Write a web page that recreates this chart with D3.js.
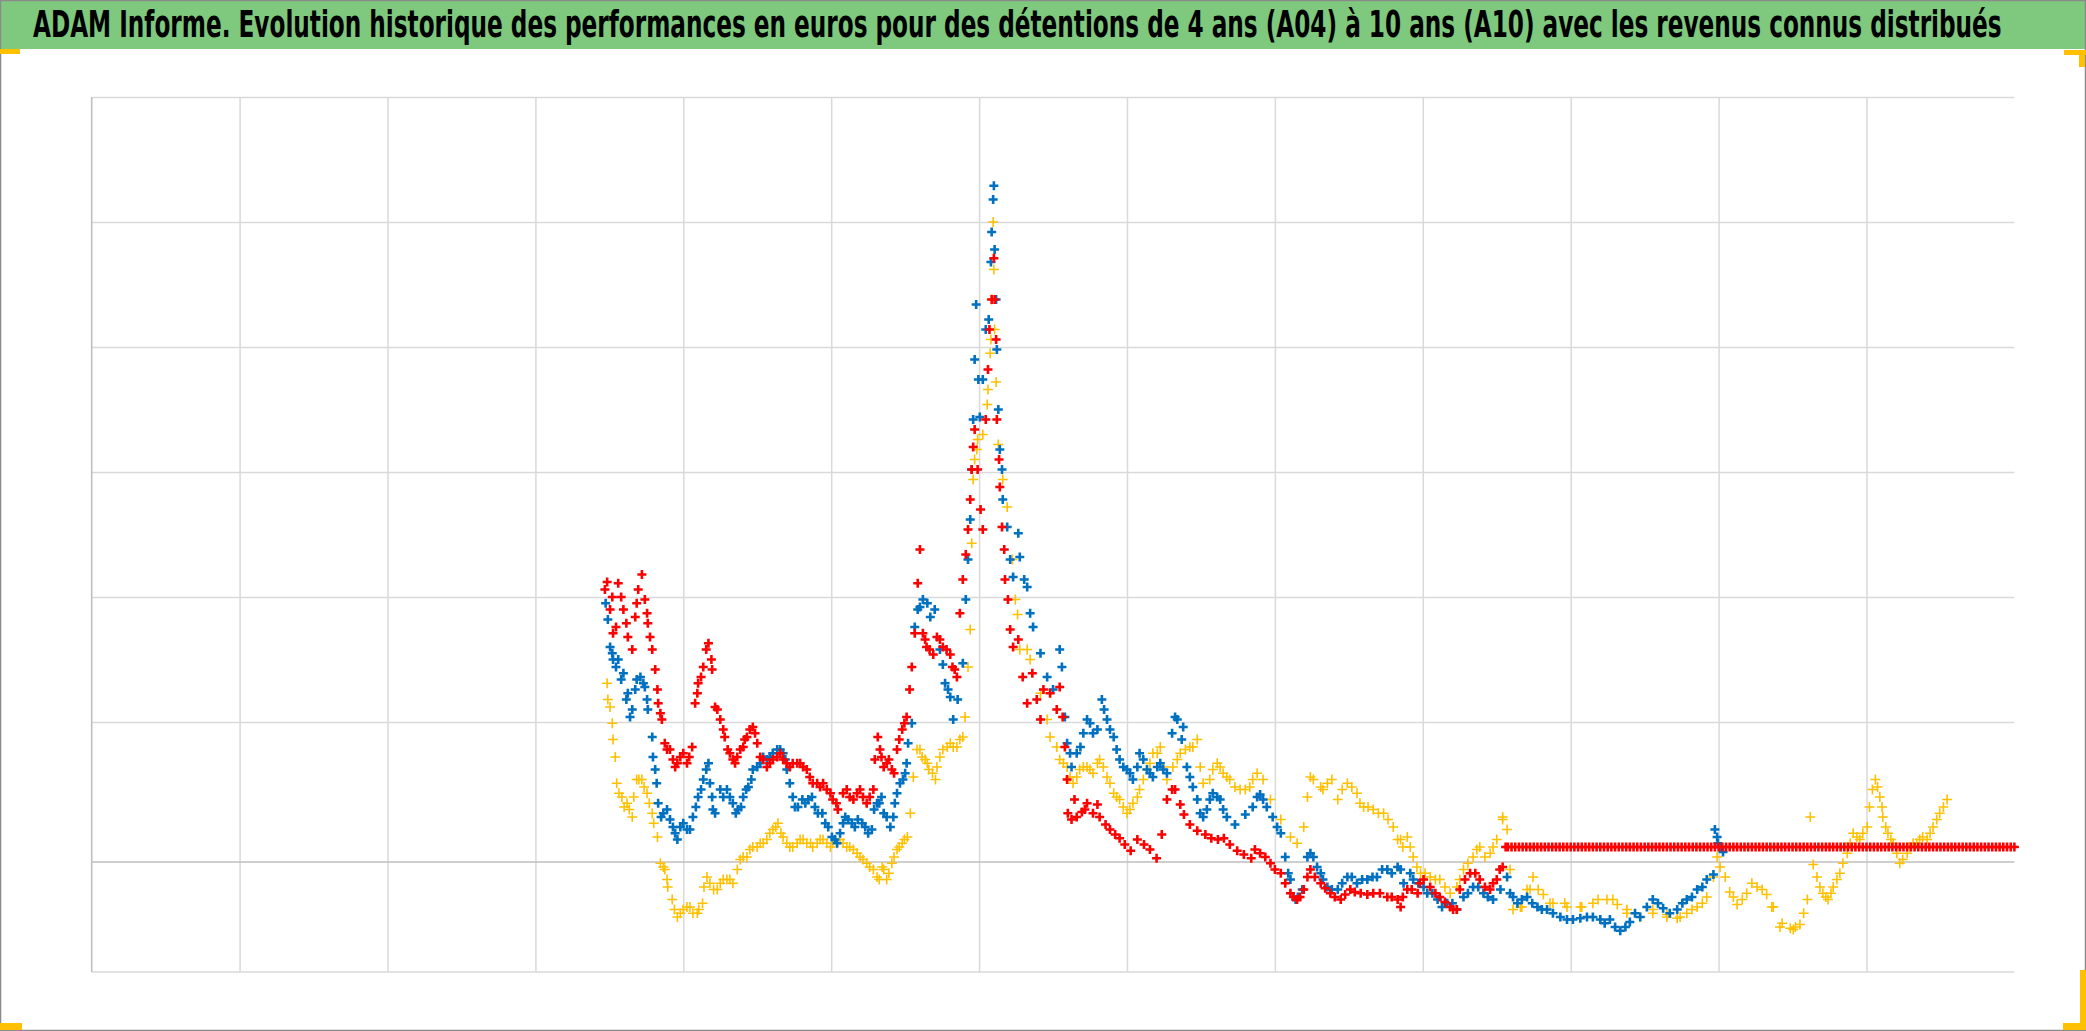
<!DOCTYPE html>
<html><head><meta charset="utf-8">
<script src="https://cdn.jsdelivr.net/npm/d3@7"></script>
<style>html,body{margin:0;padding:0;background:#fff;overflow:hidden}</style>
</head><body>
<svg id="c" width="2086" height="1031"></svg>
<script>
const titleText = "ADAM Informe. Evolution historique des performances en euros pour des détentions de 4 ans (A04) à 10 ans (A10) avec les revenus connus distribués";
const xDomain = [1988, 2014];
const yDomain = [-88, 612];
const xGridYears = [1990,1992,1994,1996,1998,2000,2002,2004,2006,2008,2010,2012];
const yGridValues = [112,212,312,412,512,612];
const seriesNames = ["A04","A07","A10"];
const seriesColors = ["#FFC000","#0070C0","#FF0000"];

// A04 (jaune)
const serieA04 = [[1994.97,143],[1994.98,130],[1995.04,111],[1995.05,98],[1995.08,84],[1995.10,63],[1995.17,52],[1995.24,47],[1995.31,36],[1995.37,66],[1995.44,66],[1995.51,55],[1995.58,39],[1995.65,20],[1995.69,-1],[1995.75,-6],[1995.79,-20],[1995.85,-30],[1995.92,-44],[1996.00,-38],[1996.09,-36],[1996.19,-41],[1996.26,-33],[1996.32,-12],[1996.41,-22],[1996.50,-17],[1996.59,-14],[1996.67,-17],[1996.77,2],[1996.86,4],[1996.94,12],[1997.04,15],[1997.13,18],[1997.21,26],[1997.28,31],[1997.35,20],[1997.44,12],[1997.54,15],[1997.62,18],[1997.72,15],[1997.81,15],[1997.89,18],[1997.99,12],[1998.08,15],[1998.16,15],[1998.25,12],[1998.35,7],[1998.43,2],[1998.52,-4],[1998.62,-12],[1998.69,-4],[1998.75,-14],[1998.82,-1],[1998.89,10],[1998.96,15],[1999.03,20],[1999.07,39],[1999.11,68],[1999.16,90],[1999.23,84],[1999.30,79],[1999.37,71],[1999.41,66],[1999.47,84],[1999.57,92],[1999.65,92],[1999.74,98],[1999.81,116],[1999.85,156],[1999.88,186],[1999.90,255],[1999.92,306],[1999.94,322],[1999.97,330],[1999.98,338],[2000.05,342],[2000.11,366],[2000.12,378],[2000.15,407],[2000.16,418],[2000.17,450],[2000.19,512],[2000.20,474],[2000.21,426],[2000.23,384],[2000.26,334],[2000.32,306],[2000.38,284],[2000.45,242],[2000.49,210],[2000.52,198],[2000.55,170],[2000.65,170],[2000.69,162],[2000.83,135],[2000.92,114],[2000.96,100],[2001.05,92],[2001.09,82],[2001.19,76],[2001.27,63],[2001.36,74],[2001.46,76],[2001.54,71],[2001.63,82],[2001.73,68],[2001.82,55],[2001.90,50],[2002.00,39],[2002.08,47],[2002.17,58],[2002.27,74],[2002.35,87],[2002.45,92],[2002.54,66],[2002.62,76],[2002.72,87],[2002.85,92],[2002.95,98],[2003.03,63],[2003.12,66],[2003.22,79],[2003.30,71],[2003.39,66],[2003.53,58],[2003.66,60],[2003.76,71],[2003.84,66],[2003.94,50],[2004.08,34],[2004.21,20],[2004.30,15],[2004.39,28],[2004.44,52],[2004.48,68],[2004.62,60],[2004.71,63],[2004.85,50],[2004.98,63],[2005.11,55],[2005.20,44],[2005.33,42],[2005.47,39],[2005.60,28],[2005.70,18],[2005.79,20],[2005.87,4],[2005.97,-9],[2006.10,-12],[2006.23,-14],[2006.37,-25],[2006.46,-20],[2006.55,-6],[2006.68,4],[2006.77,12],[2006.91,7],[2007.00,18],[2007.08,34],[2007.14,26],[2007.18,-6],[2007.22,-38],[2007.32,-36],[2007.41,-22],[2007.49,-12],[2007.63,-26],[2007.76,-33],[2007.95,-36],[2008.13,-36],[2008.30,-33],[2008.49,-30],[2008.63,-34],[2008.76,-41],[2008.94,-44],[2009.11,-41],[2009.30,-44],[2009.44,-45],[2009.57,-41],[2009.71,-36],[2009.84,-28],[2009.93,-12],[2009.98,4],[2010.02,-4],[2010.15,-24],[2010.25,-34],[2010.38,-25],[2010.52,-20],[2010.65,-26],[2010.74,-36],[2010.83,-52],[2010.97,-53],[2011.10,-50],[2011.20,-30],[2011.24,36],[2011.28,-2],[2011.33,-12],[2011.41,-25],[2011.48,-30],[2011.55,-20],[2011.64,-9],[2011.74,7],[2011.82,23],[2011.91,18],[2012.01,28],[2012.08,58],[2012.12,66],[2012.18,52],[2012.22,36],[2012.29,23],[2012.36,15],[2012.45,-1],[2012.55,7],[2012.63,15],[2012.72,18],[2012.82,18],[2012.90,28],[2012.99,39],[2013.09,50],
[1995.01,124],[1995.13,55],[1995.20,44],[1995.27,42],[1995.33,52],[1995.40,66],[1995.47,60],[1995.54,47],[1995.60,31],[1995.73,-4],[1995.78,-14],[1995.88,-38],[1995.96,-41],[1996.05,-36],[1996.13,-41],[1996.21,-38],[1996.28,-20],[1996.36,-17],[1996.46,-22],[1996.54,-14],[1996.63,-14],[1996.73,-6],[1996.81,4],[1996.90,10],[1997.00,12],[1997.08,15],[1997.17,23],[1997.25,28],[1997.32,23],[1997.40,15],[1997.48,12],[1997.58,18],[1997.67,15],[1997.75,12],[1997.85,18],[1997.94,15],[1998.02,15],[1998.12,18],[1998.21,12],[1998.30,10],[1998.39,4],[1998.48,-1],[1998.57,-6],[1998.65,-14],[1998.71,-6],[1998.78,-9],[1998.85,4],[1998.92,12],[1998.99,18],[1999.20,90],[1999.27,82],[1999.32,74],[1999.43,76],[1999.51,90],[1999.61,95],[1999.70,92],[1999.78,100],
[2001.14,79],[2001.23,68],[2001.32,68],[2001.41,76],[2001.50,74],[2001.60,79],[2001.68,76],[2001.77,63],[2001.86,52],[2001.95,44],[2002.04,42],[2002.14,52],[2002.22,66],[2002.31,79],[2002.41,87],[2002.49,76],[2002.68,82],[2002.79,90],[2002.89,92],[2002.99,76],[2003.16,74],[2003.26,76],[2003.35,68],[2003.46,60],[2003.60,58],[2003.70,66],
[2004.52,66],[2004.65,58],[2004.77,66],[2004.91,58],[2005.04,60],[2005.15,47],[2005.26,44],[2005.40,39],[2005.53,34],[2005.66,18],[2005.73,12],[2005.83,12],[2005.92,-4],[2006.03,-9],[2006.17,-14],[2006.30,-20],[2006.50,-14],[2006.61,-1],[2006.73,10],[2006.84,4],[2006.95,12],[2007.08,36],
[2007.34,-36],[2007.45,-22],[2007.56,-22],[2007.72,-33],[2007.92,-33],[2008.15,-36],[2008.37,-30],[2008.57,-30],[2008.76,-38],[2008.94,-44],[2009.11,-38],[2009.30,-42],[2009.48,-44],[2009.64,-38],[2009.78,-33],[2010.09,-12],[2010.20,-28],[2010.32,-30],[2010.45,-17],[2010.59,-22],[2010.72,-36],[2010.86,-49],[2011.01,-54],[2011.04,-52],[2011.15,-41],[2011.37,-20],[2011.45,-28],[2011.52,-25],[2011.60,-14],[2011.68,-1],[2011.78,15],[2011.87,20],[2011.95,23],[2012.04,44],[2012.15,60],[2012.21,44],[2012.26,28],[2012.33,18],[2012.41,7],[2012.49,2],[2012.59,12],[2012.68,15],[2012.76,20],[2012.86,23],[2012.95,34],[2013.04,44]];

// A07 (bleu)
const serieA07 = [[1994.95,207],[1994.98,194],[1995.01,172],[1995.05,162],[1995.12,162],[1995.19,151],[1995.25,135],[1995.31,122],[1995.35,138],[1995.42,148],[1995.48,140],[1995.52,122],[1995.58,100],[1995.62,74],[1995.66,47],[1995.73,39],[1995.82,34],[1995.89,23],[1995.96,28],[1996.05,26],[1996.13,36],[1996.20,52],[1996.27,66],[1996.34,79],[1996.39,52],[1996.43,39],[1996.50,58],[1996.59,58],[1996.67,47],[1996.74,42],[1996.81,52],[1996.88,60],[1996.94,74],[1997.04,79],[1997.13,82],[1997.21,87],[1997.31,90],[1997.38,82],[1997.44,63],[1997.51,44],[1997.61,50],[1997.69,50],[1997.78,44],[1997.88,39],[1997.96,28],[1998.05,18],[1998.12,23],[1998.19,36],[1998.28,31],[1998.36,34],[1998.46,28],[1998.55,26],[1998.62,47],[1998.68,52],[1998.75,36],[1998.80,28],[1998.86,47],[1998.93,63],[1999.00,71],[1999.04,95],[1999.09,111],[1999.13,188],[1999.17,202],[1999.24,210],[1999.34,196],[1999.40,202],[1999.47,170],[1999.54,143],[1999.61,132],[1999.65,114],[1999.71,130],[1999.78,159],[1999.82,210],[1999.85,242],[1999.88,274],[1999.90,314],[1999.92,354],[1999.94,402],[1999.96,446],[1999.99,386],[2000.01,356],[2000.05,386],[2000.09,426],[2000.13,434],[2000.16,480],[2000.17,504],[2000.19,530],[2000.20,541],[2000.21,490],[2000.23,450],[2000.24,410],[2000.26,362],[2000.28,330],[2000.31,314],[2000.32,290],[2000.38,268],[2000.42,242],[2000.46,228],[2000.53,263],[2000.55,244],[2000.61,226],[2000.65,220],[2000.69,199],[2000.73,188],[2000.83,167],[2000.92,148],[2001.00,138],[2001.09,170],[2001.12,156],[2001.16,116],[2001.19,95],[2001.25,76],[2001.32,87],[2001.41,103],[2001.50,111],[2001.60,106],[2001.66,130],[2001.73,114],[2001.82,100],[2001.90,82],[2002.00,74],[2002.08,66],[2002.17,87],[2002.27,74],[2002.35,68],[2002.45,79],[2002.54,71],[2002.61,103],[2002.68,114],[2002.74,98],[2002.81,76],[2002.89,60],[2002.99,39],[2003.08,42],[2003.16,55],[2003.26,50],[2003.35,36],[2003.46,30],[2003.60,38],[2003.70,44],[2003.80,54],[2003.89,44],[2003.97,36],[2004.08,23],[2004.14,4],[2004.21,-14],[2004.28,-30],[2004.37,-22],[2004.44,4],[2004.52,4],[2004.62,-9],[2004.71,-20],[2004.85,-22],[2004.98,-12],[2005.11,-17],[2005.25,-14],[2005.38,-12],[2005.52,-6],[2005.66,-4],[2005.74,-17],[2005.83,-9],[2005.94,-17],[2006.06,-25],[2006.20,-30],[2006.33,-33],[2006.46,-38],[2006.55,-28],[2006.68,-20],[2006.82,-25],[2006.95,-30],[2007.05,-22],[2007.14,-12],[2007.18,-25],[2007.28,-33],[2007.41,-28],[2007.55,-36],[2007.68,-38],[2007.86,-44],[2008.03,-46],[2008.22,-44],[2008.40,-46],[2008.53,-46],[2008.67,-55],[2008.80,-48],[2008.94,-44],[2009.11,-30],[2009.25,-37],[2009.44,-38],[2009.57,-30],[2009.71,-22],[2009.84,-14],[2009.93,-10],[2009.95,26],[2009.99,15],[2010.06,8],
[1995.04,167],[1995.09,156],[1995.16,146],[1995.23,130],[1995.28,116],[1995.37,146],[1995.46,143],[1995.51,130],[1995.59,84],[1995.64,63],[1995.70,36],[1995.78,42],[1995.86,28],[1995.92,18],[1996.00,31],[1996.09,26],[1996.17,44],[1996.24,58],[1996.31,74],[1996.36,63],[1996.40,42],[1996.54,52],[1996.63,52],[1996.71,39],[1996.78,44],[1996.85,58],[1996.92,66],[1997.00,76],[1997.08,84],[1997.17,84],[1997.27,90],[1997.35,87],[1997.40,74],[1997.48,52],[1997.55,44],[1997.65,47],[1997.74,52],[1997.82,39],[1997.92,31],[1998.01,20],[1998.08,15],[1998.16,31],[1998.23,34],[1998.32,28],[1998.42,31],[1998.50,23],[1998.58,42],[1998.65,47],[1998.71,39],[1998.84,36],[1998.89,55],[1998.97,66],[1999.02,79],[1999.20,204],[1999.30,207],[1999.51,158],[1999.58,138],
[2001.23,87],[2001.37,92],[2001.46,114],[2001.54,103],[2001.69,122],[2001.77,106],[2001.86,90],[2001.95,76],[2002.04,71],[2002.14,76],[2002.22,82],[2002.31,71],[2002.41,76],[2002.49,74],[2002.65,116],[2002.76,108],[2002.85,68],[2002.95,50],[2003.03,36],[2003.12,50],[2003.22,52],[2003.30,42],[2003.76,52],[2003.84,50],
[2004.03,28],[2004.18,-9],[2004.31,-28],[2004.48,7],[2004.57,-4],[2004.65,-14],[2004.77,-22],[2004.91,-17],[2005.04,-12],[2005.18,-14],[2005.32,-12],[2005.45,-6],[2005.58,-9],[2005.70,-6],[2005.87,-14],[2006.01,-20],[2006.13,-25],[2006.26,-36],[2006.40,-33],[2006.61,-25],[2006.75,-20],[2006.88,-28],[2007.22,-28],[2007.34,-30],[2007.48,-33],[2007.61,-38],[2007.76,-41],[2007.95,-46],[2008.13,-45],[2008.30,-44],[2008.46,-49],[2008.60,-52],[2008.74,-52],[2008.87,-41],[2009.03,-36],[2009.18,-33],[2009.34,-41],[2009.51,-33],[2009.64,-28],[2009.78,-20],[2009.98,20],[2010.02,12]];

// A10 (rouge)
const serieA10 = [[1994.94,218],[1994.97,224],[1995.01,202],[1995.05,183],[1995.12,223],[1995.19,202],[1995.25,180],[1995.31,170],[1995.35,196],[1995.39,218],[1995.44,230],[1995.48,210],[1995.52,191],[1995.58,170],[1995.62,154],[1995.66,127],[1995.71,114],[1995.75,95],[1995.82,90],[1995.89,76],[1995.96,84],[1996.05,79],[1996.12,92],[1996.16,127],[1996.20,143],[1996.27,156],[1996.34,175],[1996.39,154],[1996.43,124],[1996.50,114],[1996.56,100],[1996.63,87],[1996.70,79],[1996.77,90],[1996.83,98],[1996.90,106],[1996.97,103],[1997.04,84],[1997.13,76],[1997.21,82],[1997.31,87],[1997.40,79],[1997.48,79],[1997.58,79],[1997.67,74],[1997.75,63],[1997.85,60],[1997.94,58],[1998.02,50],[1998.09,42],[1998.16,55],[1998.25,52],[1998.35,55],[1998.43,52],[1998.52,52],[1998.59,82],[1998.63,100],[1998.68,84],[1998.75,79],[1998.82,74],[1998.89,90],[1998.96,106],[1999.02,116],[1999.06,138],[1999.09,156],[1999.13,183],[1999.17,223],[1999.20,250],[1999.24,183],[1999.29,172],[1999.33,170],[1999.43,180],[1999.51,172],[1999.56,170],[1999.64,156],[1999.70,148],[1999.74,199],[1999.78,226],[1999.82,246],[1999.85,266],[1999.88,290],[1999.90,314],[1999.92,332],[1999.94,346],[1999.98,314],[2000.02,282],[2000.05,266],[2000.09,354],[2000.12,394],[2000.14,426],[2000.17,450],[2000.20,483],[2000.21,450],[2000.23,418],[2000.24,354],[2000.27,322],[2000.28,300],[2000.31,268],[2000.34,250],[2000.35,226],[2000.39,210],[2000.42,186],[2000.46,172],[2000.53,178],[2000.59,148],[2000.65,127],[2000.72,151],[2000.78,130],[2000.83,114],[2000.87,138],[2000.96,135],[2001.05,122],[2001.09,140],[2001.13,116],[2001.16,92],[2001.19,66],[2001.20,39],[2001.25,34],[2001.32,36],[2001.39,40],[2001.46,47],[2001.54,39],[2001.63,36],[2001.77,26],[2001.90,19],[2002.05,9],[2002.23,14],[2002.40,3],[2002.54,50],[2002.65,58],[2002.77,38],[2002.95,25],[2003.14,19],[2003.31,19],[2003.49,9],[2003.68,3],[2003.80,7],[2003.94,-1],[2004.08,-9],[2004.21,-25],[2004.30,-30],[2004.39,-22],[2004.48,-6],[2004.62,-17],[2004.75,-25],[2004.89,-30],[2005.02,-22],[2005.16,-25],[2005.33,-25],[2005.52,-28],[2005.66,-30],[2005.70,-36],[2005.79,-22],[2005.93,-25],[2006.01,-14],[2006.10,-20],[2006.23,-28],[2006.37,-36],[2006.46,-38],[2006.50,-22],[2006.64,-9],[2006.77,-14],[2006.91,-22],[2007.00,-14],[2007.08,-4],
[1995.04,212],[1995.09,188],[1995.16,212],[1995.23,191],[1995.37,207],[1995.51,199],[1995.55,180],[1995.65,138],[1995.69,119],[1995.78,90],[1995.86,82],[1995.92,79],[1996.00,87],[1996.08,84],[1996.19,135],[1996.24,148],[1996.31,170],[1996.38,162],[1996.46,122],[1996.54,106],[1996.60,90],[1996.67,82],[1996.73,84],[1996.81,92],[1996.86,100],[1996.94,108],[1997.00,95],[1997.08,82],[1997.17,79],[1997.27,84],[1997.35,82],[1997.44,76],[1997.54,79],[1997.62,76],[1997.71,68],[1997.81,63],[1997.89,63],[1997.99,55],[1998.07,47],[1998.21,58],[1998.30,50],[1998.39,58],[1998.48,47],[1998.57,58],[1998.66,90],[1998.71,76],[1998.78,82],[1998.85,71],[1998.92,98],[1998.99,111],[1999.27,178],[1999.38,166],[1999.47,178],[1999.61,166],[1999.67,154],
[2001.29,50],[2001.43,42],[2001.60,46],[2001.71,30],[2001.84,22],[2001.97,14],[2002.14,18],[2002.31,10],[2002.47,22],[2002.61,58],[2002.72,46],[2002.85,30],[2003.06,22],[2003.23,18],[2003.39,14],[2003.58,6],[2003.73,10],
[2003.87,4],[2004.00,-6],[2004.14,-17],[2004.25,-28],[2004.34,-28],[2004.44,-12],[2004.54,-12],[2004.68,-21],[2004.81,-28],[2004.95,-26],[2005.08,-24],[2005.25,-26],[2005.42,-25],[2005.58,-28],[2005.73,-28],[2005.85,-22],[2005.96,-17],[2006.17,-25],[2006.30,-32],[2006.41,-38],[2006.57,-14],[2006.71,-9],[2006.84,-20],[2006.95,-17],[2007.04,-6],
[2007.12,12],[2007.15,12],[2007.2,12],[2007.25,12],[2007.3,12],[2007.35,12],[2007.4,12],[2007.45,12],[2007.5,12],[2007.55,12],[2007.6,12],[2007.65,12],[2007.7,12],[2007.75,12],[2007.8,12],[2007.85,12],[2007.9,12],[2007.95,12],[2008.0,12],[2008.05,12],[2008.1,12],[2008.15,12],[2008.2,12],[2008.25,12],[2008.3,12],[2008.35,12],[2008.4,12],[2008.45,12],[2008.5,12],[2008.55,12],[2008.6,12],[2008.65,12],[2008.7,12],[2008.75,12],[2008.8,12],[2008.85,12],[2008.9,12],[2008.95,12],[2009.0,12],[2009.05,12],[2009.1,12],[2009.15,12],[2009.2,12],[2009.25,12],[2009.3,12],[2009.35,12],[2009.4,12],[2009.45,12],[2009.5,12],[2009.55,12],[2009.6,12],[2009.65,12],[2009.7,12],[2009.75,12],[2009.8,12],[2009.85,12],[2009.9,12],[2009.95,12],[2010.0,12],[2010.05,12],[2010.1,12],[2010.15,12],[2010.2,12],[2010.25,12],[2010.3,12],[2010.35,12],[2010.4,12],[2010.45,12],[2010.5,12],[2010.55,12],[2010.6,12],[2010.65,12],[2010.7,12],[2010.75,12],[2010.8,12],[2010.85,12],[2010.9,12],[2010.95,12],[2011.0,12],[2011.05,12],[2011.1,12],[2011.15,12],[2011.2,12],[2011.25,12],[2011.3,12],[2011.35,12],[2011.4,12],[2011.45,12],[2011.5,12],[2011.55,12],[2011.6,12],[2011.65,12],[2011.7,12],[2011.75,12],[2011.8,12],[2011.85,12],[2011.9,12],[2011.95,12],[2012.0,12],[2012.05,12],[2012.1,12],[2012.15,12],[2012.2,12],[2012.25,12],[2012.3,12],[2012.35,12],[2012.4,12],[2012.45,12],[2012.5,12],[2012.55,12],[2012.6,12],[2012.65,12],[2012.7,12],[2012.75,12],[2012.8,12],[2012.85,12],[2012.9,12],[2012.95,12],[2013.0,12],[2013.05,12],[2013.1,12],[2013.15,12],[2013.2,12],[2013.25,12],[2013.3,12],[2013.35,12],[2013.4,12],[2013.45,12],[2013.5,12],[2013.55,12],[2013.6,12],[2013.65,12],[2013.7,12],[2013.75,12],[2013.8,12],[2013.85,12],[2013.9,12],[2013.95,12],[2014.0,12]];

const W = 2086, H = 1031;
const plot = {left: 91.7, right: 2014.4, top: 97, bottom: 972};
const svg = d3.select("#c");

const x = d3.scaleLinear().domain(xDomain).range([plot.left, plot.right]);
const y = d3.scaleLinear().domain(yDomain).range([plot.bottom, plot.top]);

svg.append("rect").attr("x",0).attr("y",0).attr("width",W).attr("height",H).attr("fill","#fff");

// title bar
svg.append("rect").attr("x",0).attr("y",0).attr("width",W).attr("height",49).attr("fill","#7EC97E");
const titleG = svg.append("g");
const title = titleG.append("text").attr("x",0).attr("y",0)
  .attr("font-family","'Liberation Sans Narrow','Arial Narrow','DejaVu Sans Condensed',sans-serif")
  .attr("font-weight","bold").attr("font-size",37).attr("fill","#000")
  .text(titleText);
const natural = title.node().getComputedTextLength();
const sx = natural > 0 ? 1969 / natural : 1;
titleG.attr("transform", `translate(33,37) scale(${sx},1)`);

// grid
const gx = svg.append("g").attr("transform",`translate(0,${plot.bottom})`)
  .call(d3.axisBottom(x).tickValues(xGridYears).tickSize(-(plot.bottom-plot.top)).tickFormat(""));
gx.select(".domain").remove();
gx.selectAll("line").attr("stroke","#d9d9d9").attr("stroke-width",1.5);

const gy = svg.append("g").attr("transform",`translate(${plot.left},0)`)
  .call(d3.axisLeft(y).tickValues(yGridValues).tickSize(-(plot.right-plot.left)).tickFormat(""));
gy.select(".domain").remove();
gy.selectAll("line").attr("stroke","#d9d9d9").attr("stroke-width",1.5);

// bottom border, zero axis, left axis
svg.append("line").attr("x1",plot.left).attr("x2",plot.right).attr("y1",y(yDomain[0])).attr("y2",y(yDomain[0]))
  .attr("stroke","#d9d9d9").attr("stroke-width",1.5);
svg.append("line").attr("x1",plot.left).attr("x2",plot.right).attr("y1",y(0)).attr("y2",y(0))
  .attr("stroke","#bfbfbf").attr("stroke-width",1.6);
svg.append("line").attr("x1",x(xDomain[0])).attr("x2",x(xDomain[0])).attr("y1",plot.top).attr("y2",plot.bottom)
  .attr("stroke","#bfbfbf").attr("stroke-width",1.6);

// markers
const series = [
  {name: seriesNames[0], data: serieA04, color: seriesColors[0], size: 5, sw: 1.6},
  {name: seriesNames[1], data: serieA07, color: seriesColors[1], size: 4.5, sw: 2.6},
  {name: seriesNames[2], data: serieA10, color: seriesColors[2], size: 4.5, sw: 2.6}
];
series.forEach(s => {
  svg.append("g").attr("class","serie-"+s.name)
    .selectAll("path").data(s.data).enter().append("path")
    .attr("transform", d => `translate(${x(d[0])},${y(d[1])})`)
    .attr("d", `M${-s.size},0H${s.size}M0,${-s.size}V${s.size}`)
    .attr("stroke", s.color).attr("stroke-width", s.sw).attr("fill","none");
});

// frame and corner marks
svg.append("rect").attr("x",0.5).attr("y",0.5).attr("width",W-1).attr("height",H-1)
  .attr("fill","none").attr("stroke","#8a8a8a").attr("stroke-width",1.5);
const orange = "#FFC000";
svg.append("rect").attr("x",0).attr("y",49).attr("width",20).attr("height",5).attr("fill",orange);
svg.append("rect").attr("x",2064).attr("y",50).attr("width",22).attr("height",5).attr("fill",orange);
svg.append("rect").attr("x",2079).attr("y",50).attr("width",6).attr("height",17).attr("fill",orange);
svg.append("rect").attr("x",0).attr("y",1023).attr("width",22).attr("height",7).attr("fill",orange);
svg.append("rect").attr("x",2080).attr("y",970).attr("width",6).attr("height",59).attr("fill",orange);
svg.append("rect").attr("x",2063).attr("y",1023).attr("width",23).attr("height",7).attr("fill",orange);
</script>
</body></html>
